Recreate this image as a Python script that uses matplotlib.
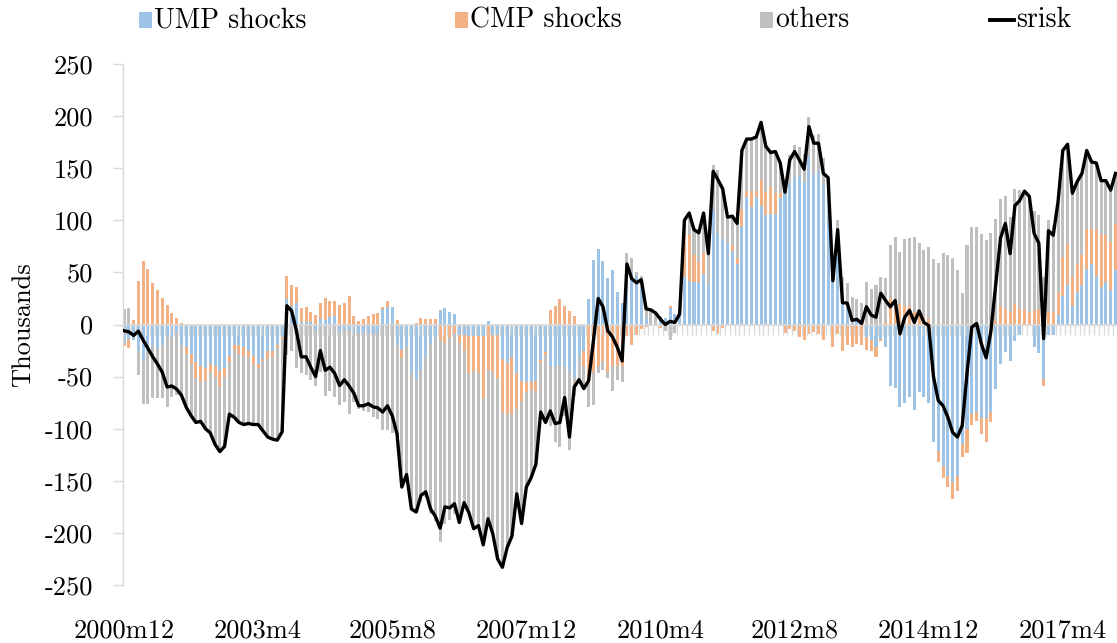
import matplotlib
matplotlib.use("Agg")
import matplotlib.pyplot as plt
import numpy as np
from matplotlib.patches import Rectangle
from matplotlib.lines import Line2D

plt.rcParams['font.family'] = 'cmr10'
plt.rcParams['axes.unicode_minus'] = False

# monthly data, 2000m12 .. 2018m3 (thousands)
srisk = [
    -6, -7, -10.5, -6.4, -15, -23, -31, -38, -46, -60, -59, -62, -68, -79.5, -87.5, -94,
    -93, -100, -104, -115, -122, -117, -86, -89, -94, -96, -95, -96, -96, -102, -108, -110,
    -111, -103, 18, 13, -6, -31, -31, -41, -50, -25, -44, -41, -47, -58.6, -53, -59,
    -66, -78, -78, -76, -79, -80, -84, -78, -87.5, -105, -156, -144, -177, -180, -164, -160.6,
    -177, -184, -195.5, -175, -176, -172, -190, -171, -180.5, -196, -193, -211.5, -186.5, -201, -225, -233,
    -214, -203, -162.5, -191, -156, -147, -134, -84, -94, -83, -95, -94, -70, -108, -60, -53,
    -61.5, -54, -15.6, 25, 17, -6, -12, -22, -35, 58, 44, 40, 43, 15, 14, 11,
    5, 0, 3, 2, 10, 100, 107, 91, 88, 107, 68, 147, 139, 130, 103, 104,
    97, 167, 178, 178, 180, 194, 171, 165, 166, 155, 127, 158, 166, 158, 149, 190,
    174, 174, 145, 141, 42, 91, 21, 20.5, 4, 5, 1, 17, 9, 7, 30, 23,
    17, 23, -9, 7, 13.5, 2, 13, 2, -1, -50, -73, -78, -89, -103.5, -108, -97,
    -47, -2.5, 1, -18.6, -32, -6, 39, 83, 97, 68, 114, 119, 128, 123, 87.5, 78,
    -13.5, 90, 85.6, 117.6, 167, 173, 126, 137, 145, 167, 156, 155, 138, 138, 129, 145,
]

ump = [
    -18, -14, -14.5, -25, -35, -25, -20, -23, -20, -10, -12, -8, -20, -22, -28, -36,
    -40, -42, -38, -40, -45, -42, -30, -20, -20, -22, -25, -30, -38, -33, -25, -25,
    -20, -12, 24, 18, 21, 2, 2, 2, -5, 5, 4, 7, 8, -8, -5, -5,
    -8, -8, -8, -8, -9, -8, 15, 17, 17, -20, -24, -21, -46, -52, -44, -30,
    -19, -12, 13.5, 16, 12, 10, -10, -10, -11, -11, -11, -11, 3, -10, -10, -33,
    -37, -31, -47, -54, -55, -55, -54, -34, -26, -40, -40, -40, -40, -45, -50, -30,
    -25, 24.6, 61.5, 72, 61, 45, 52, 31, 20.5, 58, 52, 47, 38, 5, 0, 0,
    4, 6, 16, 10, 6, 45.5, 42, 41, 41, 48, 38, 111, 88, 82, 78, 71,
    58.5, 95, 122, 113, 122, 114, 105, 106, 106, 121, 127, 135.5, 142, 143.5, 137, 161,
    143.5, 146.5, 134, 120, 62, 88, 21, 17, 1, 3.5, 2, -12, -15, -22, -14, -22,
    -59, -61, -79, -75, -69.5, -82, -65, -69.5, -75, -113, -121, -136, -145, -151, -145, -115,
    -100, -86, -84, -90, -90, -84, -62, -37.5, -26.7, -35, -16, -9.6, -0.6, 0, -21.5, -27,
    -52, -10, -10, 10, 27, 37.5, 18, 31, 37.5, 53.5, 58, 47, 36, 40.7, 32.7, 52.6,
]

cmp_ = [
    -3, -9, 4, 42, 61, 53, 40, 33, 25, 19, 11, 6, 1, -6, -10, -15,
    -15, -12, -8, -10, -15, -8, -6, -4, -8, -8, -6, -8, -4, -2, -8, -6,
    -3, -2, 23, 20, 15, 14, 15, 10, 9, 16, 21, 16, 15, 18.6, 21, 27,
    8, 3, 5, 8, 10, 11, 2, 6, 0, 4, -8, 0, 0, 1, 6, 5,
    5, 5, -15, -18, -12, -8, -8, -15, -36, -34, -36, -60, -44, -36, -42, -51,
    -49, -55, -34, -19, -10, -8, -10, -3, -3, 14, 18, 24, 18, 12.5, 8.6, 0,
    -15, -57, -46, -40, -35, -46, -40, -40, -40, -10.6, -20, -10, -4, -2, -1, -1,
    -3, 0, 2, 0, 0, 41, 44, 26, 19, 21, 0, -6, -9, -3, 0, 5,
    5.5, 16, 6.5, 15.5, 6.5, 25, 22, 26, 20, 5, -8, -4.5, -6, -12, -15, -9.5,
    -7.5, -9, -15, 0, -22, -9, -25, -20, -22, -19, -20, -12, -10, -9, -2, 2,
    25, 20, 20, 18, 18, 12, 15, 8, 5, 0, -11, -11, -11, -16, -15, -12,
    -23, -10, -9, -15, -23, -10, 3, 18, 15, 12, 20, 15, 15, 12, 14, 15,
    -7, 12, 12, 21, 38, 40, 28, 27, 29.5, 38.5, 34, 45, 49.6, 45, 46, 44,
]

others = [
    15, 16, 0, -23.4, -41, -51, -51, -48, -51, -69, -58, -60, -49, -51.5, -49.5, -43,
    -38, -46, -58, -65, -62, -67, -50, -65, -66, -66, -64, -58, -54, -67, -75, -79,
    -88, -89, -29, -25, -42, -47, -48, -53, -54, -46, -69, -64, -70, -69, -69, -81,
    -66, -73, -75, -76, -80, -83, -101, -101, -104.5, -89, -124, -123, -131, -129, -126, -135.6,
    -163, -177, -194, -173, -176, -174, -172, -146, -133.5, -151, -146, -140.5, -145.5, -155, -173, -149,
    -128, -117, -81.5, -118, -91, -84, -70, -47, -65, -57, -73, -78, -48, -75.5, -18.6, -23,
    -21.5, -22, -31, -7, -9, -5, -24, -13, -15, 10.6, 12, 3, 9, 12, 15, 12,
    4, -6, -15, -8, 4, 13.5, 21, 24, 28, 38, 30, 42, 60, 51, 25, 28,
    33, 56, 49.5, 49.5, 51.5, 55, 44, 33, 40, 29, 8, 27, 30, 26.5, 27, 38.5,
    38, 36.5, 26, 21, 2, 12, 25, 23, 25, 20.5, 19, 41, 34, 38, 46, 43,
    51, 64, 50, 64, 65, 72, 63, 63.5, 69, 63, 59, 69, 67, 63.5, 52, 30,
    76, 93.5, 94, 86.5, 81, 88, 98, 102.5, 108.7, 91, 110, 113.6, 113.6, 111, 95, 90,
    45.5, 88, 83.6, 86.6, 102, 95.5, 80, 79, 78, 75, 64, 63, 52.4, 52.3, 50.3, 48.4,
]

tick_labels = ["2000m12", "2003m4", "2005m8", "2007m12", "2010m4", "2012m8", "2014m12", "2017m4"]
series_names = ["UMP shocks", "CMP shocks", "others"]
colors = ["#9DC3E6", "#F4B183", "#BFBFBF"]

W, H = 1117, 643
fig = plt.figure(figsize=(W / 100, H / 100), dpi=100)
ax = fig.add_axes([122.5 / W, 58 / H, (W - 122.5) / W, 521 / H])

n = len(srisk)
x = np.arange(n)
bw = 0.63

# excel-style stacking: positives go up, negatives go down
pos = np.zeros(n)
neg = np.zeros(n)
for vals, col in zip([ump, cmp_, others], colors):
    v = np.array(vals, dtype=float)
    bottom = np.where(v >= 0, pos, neg)
    ax.bar(x, v, bw, bottom=bottom, color=col, linewidth=0, zorder=2)
    pos = pos + np.clip(v, 0, None)
    neg = neg + np.clip(v, None, 0)

# category axis at zero with small ticks between months
ax.axhline(0, color="#d9d9d9", lw=1.2, zorder=2.5)
ax.vlines(x[:-1] + 0.5, -10, 0, color="#d9d9d9", lw=1, zorder=2.4)

ax.plot(x, srisk, color="black", lw=2.4, zorder=3, solid_joinstyle="round")

ax.set_xlim(-bw / 2, n - 1 + bw / 2)
ax.set_ylim(-250, 250)
yt = np.arange(-250, 251, 50)
ax.set_yticks(yt)
ax.set_yticklabels([str(t) for t in yt])
ax.set_xticks(np.arange(0, n, 28)[:len(tick_labels)])
ax.set_xticklabels(tick_labels)

for s in ["top", "right", "bottom"]:
    ax.spines[s].set_visible(False)
ax.spines["left"].set_color("#d9d9d9")
ax.spines["left"].set_linewidth(1)
ax.tick_params(axis="y", direction="out", length=7, width=1, color="#d9d9d9",
               labelsize=19, pad=14)
ax.tick_params(axis="x", length=0, labelsize=19, pad=24)
ax.set_ylabel("Thousands", fontsize=19)
ax.yaxis.set_label_coords(-0.088, 0.5)

# legend drawn along the top
leg_y = 1 - 20 / H
for name, col, x0 in zip(series_names, colors, [139, 455, 760]):
    fig.add_artist(Rectangle((x0 / W, leg_y - 8 / H), 13 / W, 16 / H,
                             transform=fig.transFigure, color=col, lw=0))
    fig.text((x0 + 15) / W, leg_y, name, fontsize=20, va="center", ha="left")
fig.add_artist(Line2D([990 / W, 1014 / W], [leg_y, leg_y], color="black", lw=2.8,
                      transform=fig.transFigure))
fig.text(1016 / W, leg_y, "srisk", fontsize=20, va="center", ha="left")

fig.savefig("out.png", dpi=100)
